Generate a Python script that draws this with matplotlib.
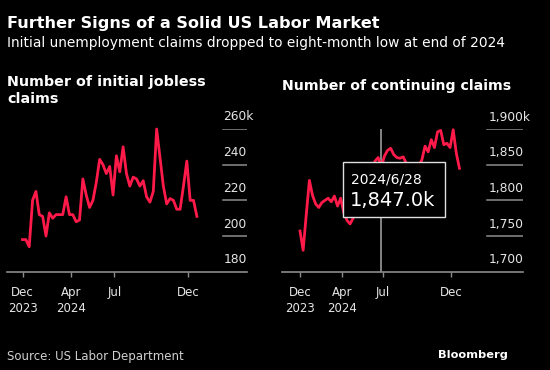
import matplotlib
matplotlib.use("Agg")
import matplotlib.pyplot as plt
import matplotlib.transforms as mtransforms
from matplotlib.patches import Rectangle
import pandas as pd

# ---------------- data ----------------
initial_start = "2023-12-22"
initial_claims = [198, 198, 194, 220, 225, 212, 211, 200, 213, 210, 212, 212, 212,
                  222, 212, 212, 208, 209, 232, 223, 216, 220, 230, 243, 240, 235,
                  239, 223, 245, 236, 250, 235, 228, 233, 232, 228, 231, 222, 219,
                  225, 260, 244, 228, 218, 221, 220, 215, 215, 228, 242, 220, 220,
                  211]

continuing_start = "2023-12-29"
continuing_claims = [1757, 1730, 1780, 1828, 1807, 1795, 1790, 1797, 1800, 1803,
                     1798, 1806, 1792, 1803, 1783, 1772, 1767, 1775, 1785, 1800,
                     1810, 1825, 1835, 1845, 1855, 1860, 1847, 1862, 1870, 1873,
                     1864, 1860, 1859, 1861, 1852, 1840, 1830, 1838, 1848, 1857,
                     1876, 1868, 1885, 1874, 1896, 1898, 1878, 1880, 1874, 1899,
                     1866, 1845]

initial_yticks = [180, 200, 220, 240, 260]
initial_ylabels = ["180", "200", "220", "240", "260k"]
continuing_yticks = [1700, 1750, 1800, 1850, 1900]
continuing_ylabels = ["1,700", "1,750", "1,800", "1,850", "1,900k"]

tick_dates_left = ["2023-12-22", "2024-04-01", "2024-07-01", "2024-12-01"]
tick_dates_right = ["2023-12-29", "2024-04-01", "2024-07-01", "2024-12-01"]
tick_labels = ["Dec\n2023", "Apr\n2024", "Jul", "Dec"]

tooltip_date = "2024-06-28"
tooltip_value = 1847.0

# ---------------- style ----------------
BG = "black"
RED = "#ff1a4a"
GRID = "#8c8c8c"
TXT = "#e6e6e6"
plt.rcParams["font.family"] = ["DejaVu Sans"]

W, H = 550, 370
fig = plt.figure(figsize=(5.5, 3.7), dpi=100, facecolor=BG)


def px_axes(x0, x1, y_top, y_bot):
    return fig.add_axes([x0 / W, 1 - y_bot / H, (x1 - x0) / W, (y_bot - y_top) / H])


def style_axes(ax, yticks, ylabels, gx, lx, ticks, xlim, ylim):
    ax.set_facecolor(BG)
    for s in ["top", "right", "left"]:
        ax.spines[s].set_visible(False)
    ax.spines["bottom"].set_color(GRID)
    ax.spines["bottom"].set_linewidth(1.2)
    ax.set_xlim(pd.Timestamp(xlim[0]), pd.Timestamp(xlim[1]))
    ax.set_ylim(*ylim)
    ax.set_yticks([])
    ax.set_xticks([pd.Timestamp(d) for d in ticks])
    ax.set_xticklabels(tick_labels, fontsize=8.5, color=TXT, linespacing=1.25)
    ax.tick_params(axis="x", length=3.6, width=1, color=GRID, pad=7)
    trans = mtransforms.blended_transform_factory(ax.transAxes, ax.transData)
    lab_trans = mtransforms.offset_copy(trans, fig=fig, x=0, y=8.5, units="dots")
    for v, lab in zip(yticks, ylabels):
        if v != yticks[0]:
            ax.axhline(v, xmin=gx, xmax=1, color=GRID, lw=1.1, zorder=1)
        ax.text(lx, v, lab, transform=lab_trans, ha="left", va="baseline",
                fontsize=8.8, color=TXT)


# left panel: initial claims
ax1 = px_axes(6.7, 246.7, 129, 271.7)
d1 = pd.date_range(initial_start, periods=len(initial_claims), freq="7D")
ax1.plot(d1, initial_claims, color=RED, lw=2.0, clip_on=False, zorder=3,
         solid_joinstyle="round")
style_axes(ax1, initial_yticks, initial_ylabels, 0.901, 0.903,
           tick_dates_left, ("2023-11-19", "2025-04-03"), (180, 260))

# right panel: continuing claims
ax2 = px_axes(281.7, 523.3, 129, 271.7)
d2 = pd.date_range(continuing_start, periods=len(continuing_claims), freq="7D")
ax2.plot(d2, continuing_claims, color=RED, lw=2.0, clip_on=False, zorder=3,
         solid_joinstyle="round")
style_axes(ax2, continuing_yticks, continuing_ylabels, 0.85, 0.855,
           tick_dates_right, ("2023-11-18", "2025-05-12"), (1700, 1900))

# tooltip
ax2.axvline(pd.Timestamp(tooltip_date), color="#9a9a9a", lw=1.2, zorder=2)
ax2.add_patch(Rectangle((0.2525, 0.381), 0.4222, 0.3856, transform=ax2.transAxes,
                        facecolor=BG, edgecolor="#e0e0e0", lw=1.0, zorder=5,
                        clip_on=False))
t = pd.Timestamp(tooltip_date)
ax2.text(0.287, 0.619, f"{t.year}/{t.month}/{t.day}", transform=ax2.transAxes,
         fontsize=10, color="white", ha="left", va="baseline", zorder=6)
ax2.text(0.283, 0.46, f"{tooltip_value:,.1f}k", transform=ax2.transAxes,
         fontsize=14, color="white", ha="left", va="baseline", zorder=6)

# texts
def ftext(x, y, s, **kw):
    fig.text(x / W, 1 - y / H, s, va="baseline", **kw)

ftext(7, 28, "Further Signs of a Solid US Labor Market", fontsize=11.6,
      fontweight="bold", color="white")
ftext(7, 46.5, "Initial unemployment claims dropped to eight-month low at end of 2024",
      fontsize=9.9, color="white")
ftext(7, 86, "Number of initial jobless", fontsize=10.3, fontweight="bold", color="white")
ftext(7, 102.7, "claims", fontsize=10.3, fontweight="bold", color="white")
ftext(281.7, 90, "Number of continuing claims", fontsize=10.2, fontweight="bold",
      color="white")
ftext(7, 360, "Source: US Labor Department", fontsize=8.5, color="#d0d0d0")
ftext(508, 358.5, "Bloomberg", fontsize=8.2, fontweight="bold", color="white",
      ha="right")

fig.savefig("out.png", dpi=100, facecolor=BG)
